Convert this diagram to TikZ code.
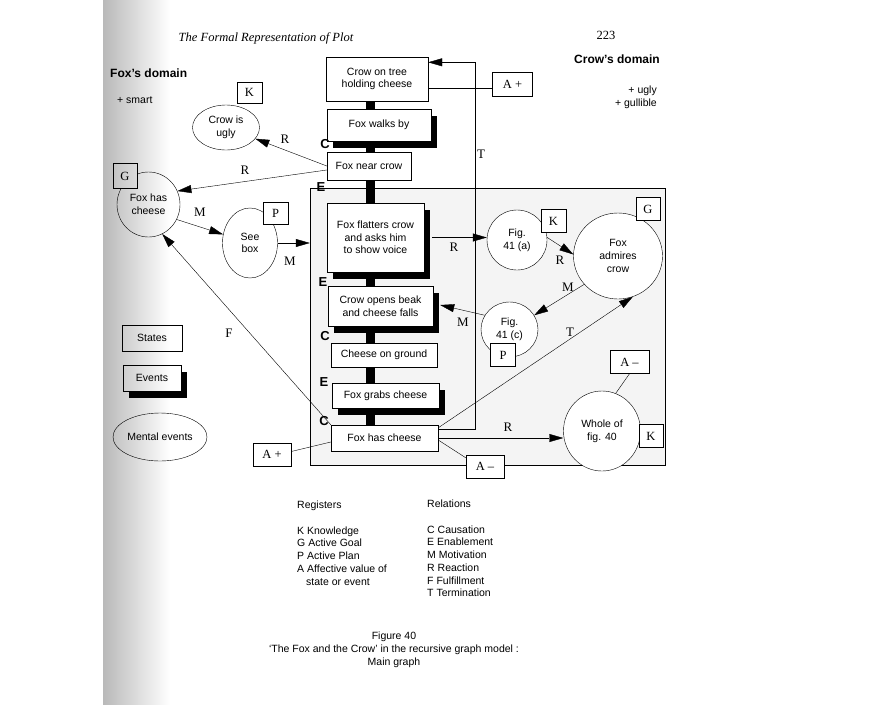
\documentclass[tikz,border=0pt]{standalone}
\usepackage{fontspec}
\setmainfont{Liberation Serif}
\setsansfont{Liberation Sans}
\usetikzlibrary{shapes.geometric, shadows, arrows.meta, positioning}

\begin{document}
\begin{tikzpicture}[x=1pt, y=-1pt,
	txt/.style={font=\sffamily\fontsize{10.5}{12.7}\selectfont, align=center, inner sep=0pt},
	state/.style={txt, draw, fill=white},
	event/.style={state, drop shadow={shadow xshift=6pt, shadow yshift=-7pt, opacity=1, fill=black}},
	mental/.style={txt, draw, ellipse, fill=white},
	reg/.style={draw, fill=white, inner sep=0pt, font=\fontsize{12.5}{12.5}\selectfont},
	rel/.style={font=\fontsize{13}{13}\selectfont, inner sep=0pt},
	link/.style={font=\sffamily\bfseries\fontsize{13}{13}\selectfont, inner sep=0pt},
	arr/.style={-{Triangle[length=14pt, width=8pt]}}]
\useasboundingbox (0,0) rectangle (896,704);
\node[draw, fill=gray!9, minimum width=355pt, minimum height=277pt] (sub) at (487.5,326.5) {};

\node[font=\itshape\fontsize{12.5}{12.5}\selectfont] (head) at (266,38) {The Formal Representation of Plot};
\node[font=\fontsize{12.5}{12.5}\selectfont] (page) at (606,35) {223};
\node[font=\sffamily\bfseries\fontsize{12}{12}\selectfont, anchor=west, inner sep=0pt] (foxdom) at (110,73) {Fox's domain};
\node[txt, anchor=west] (foxtr) at (117,100) {+ smart};
\node[font=\sffamily\bfseries\fontsize{12}{12}\selectfont, anchor=east, inner sep=0pt] (crowdom) at (660,59) {Crow's domain};
\node[txt, align=right, anchor=east] (crowtr) at (657,97.5) {+ ugly\\+ gullible};

\node[state, minimum width=102pt, minimum height=44pt] (tree) at (377,79) {Crow on tree\\holding cheese};
\node[event, minimum width=104pt, minimum height=32pt] (walks) at (379,125) {Fox walks by};
\node[state, minimum width=84pt, minimum height=28pt] (near) at (369,166) {Fox near crow};
\node[event, minimum width=97pt, minimum height=69pt] (flat) at (375.5,237.5) {Fox flatters crow\\and asks him\\to show voice};
\node[event, minimum width=105pt, minimum height=40pt] (beak) at (380.5,306) {Crow opens beak\\and cheese falls};
\node[state, minimum width=106pt, minimum height=24pt] (ground) at (384,355) {Cheese on ground};
\node[event, minimum width=107pt, minimum height=25pt] (grabs) at (385.5,395.5) {Fox grabs cheese};
\node[state, minimum width=107pt, minimum height=26pt] (foxhas) at (384.5,438) {Fox has cheese};

\coordinate (bx) at (370,0);
\foreach \a/\b in {tree/walks, walks/near, near/flat, flat/beak, beak/ground, ground/grabs, grabs/foxhas}
	\draw[line width=9pt] (\a.south -| bx) -- (\b.north -| bx);

\node[link] (c1) at (325,144) {C};
\node[link] (e1) at (321,187) {E};
\node[link] (e2) at (323,282) {E};
\node[link] (c2) at (325,336) {C};
\node[link] (e3) at (324,382) {E};
\node[link] (c3) at (324,421) {C};

\node[mental, minimum width=67pt, minimum height=45pt] (ugly) at (226,127.5) {Crow is\\ugly};
\node[reg, minimum width=25pt, minimum height=21pt] (k1) at (249.5,92.5) {K};
\node[mental, minimum width=63pt, minimum height=65pt] (goal) at (148.5,204.5) {Fox has\\cheese};
\node[reg, minimum width=24pt, minimum height=25pt] (g1) at (125,176) {G};
\node[mental, minimum width=55pt, minimum height=70pt] (see) at (250,243) {See\\box};
\node[reg, minimum width=25pt, minimum height=22pt] (p1) at (275.5,213.5) {P};

\node[state, minimum width=60pt, minimum height=26pt] (lstate) at (152,338) {States};
\node[event, minimum width=58pt, minimum height=26pt] (levent) at (152,378) {Events};
\node[mental, minimum width=94pt, minimum height=48pt] (lmental) at (160,437) {Mental events};

\node[mental, minimum width=60pt, minimum height=60pt] (figa) at (517,240) {Fig.\\41 (a)};
\node[reg, minimum width=25pt, minimum height=23pt] (k2) at (553.5,221) {K};
\node[mental, minimum width=89pt, minimum height=86pt] (admire) at (618,256) {Fox\\admires\\crow};
\node[reg, minimum width=24pt, minimum height=23pt] (g2) at (648,209) {G};
\node[mental, minimum width=57pt, minimum height=55pt] (figc) at (509.5,329.5) {Fig.\\41 (c)};
\node[reg, minimum width=25pt, minimum height=23pt] (p2) at (503,355) {P};
\node[mental, minimum width=77pt, minimum height=80pt] (whole) at (602,431) {Whole of\\fig. 40};
\node[reg, minimum width=24pt, minimum height=23pt] (k3) at (651,436) {K};
\node[reg, minimum width=39pt, minimum height=23pt] (am1) at (629.5,362) {A --};
\node[reg, minimum width=38pt, minimum height=23pt] (am2) at (485,466.5) {A --};
\node[reg, minimum width=40pt, minimum height=24pt] (ap1) at (512.5,84) {A +};
\node[reg, minimum width=38pt, minimum height=23pt] (ap2) at (272,454.5) {A +};

\draw[arr] (near.west) to (ugly);
\draw[arr] ([yshift=-4pt]near.west) to (goal.25);
\draw[arr] (goal.-28) to (see);
\draw[arr] (see.east) to (see.east -| sub.west);
\draw[arr] (foxhas.north west) to (goal.-65);
\draw ([yshift=3pt]ap2.east) to ([yshift=-4pt]foxhas.west);
\draw ([yshift=-9pt]tree.east) to ([yshift=-4pt]ap1.west);
\draw[arr] ([yshift=-4pt]foxhas.north east) -| ([xshift=47pt, yshift=-5.5pt]tree.north east) -- ([yshift=-5.5pt]tree.north east);
\draw[arr] ([xshift=8pt]flat.east) to (flat.east -| figa.west);
\draw[arr] (figa.5) to (admire.178);
\draw[arr] (admire.220) to (figc.30);
\draw[arr] (figc.150) to ([xshift=7pt, yshift=1pt]beak.east);
\draw[arr] ([yshift=-3pt]foxhas.north east) to (admire.-70);
\draw[arr] (foxhas.east) to (foxhas.east -| whole.west);
\draw (am1.south) to (whole.70);
\draw ([yshift=-2pt]foxhas.east) to ([yshift=-3pt]am2.north west);

\node[rel] (r1) at (285,139) {R};
\node[rel] (r2) at (245,170) {R};
\node[rel] (m1) at (200,212) {M};
\node[rel] (m2) at (290,261) {M};
\node[rel] (f1) at (229,333) {F};
\node[rel] (t1) at (481,154) {T};
\node[rel] (r3) at (454,247) {R};
\node[rel] (r4) at (560,260) {R};
\node[rel] (m3) at (568,287) {M};
\node[rel] (m4) at (463,322) {M};
\node[rel] (t2) at (570,332) {T};
\node[rel] (r5) at (508,427) {R};

\node[txt, align=left, anchor=north west] (regs) at (297,501) {Registers\\[12.7pt]K Knowledge\\G Active Goal\\P Active Plan\\A Affective value of\\\hspace{9pt}state or event};
\node[txt, align=left, anchor=north west] (rels) at (427,500) {Relations\\[12.7pt]C Causation\\E Enablement\\M Motivation\\R Reaction\\F Fulfillment\\T Termination};
\node[txt, anchor=north] (cap) at (394,632) {Figure 40\\‘The Fox and the Crow’ in the recursive graph model :\\Main graph};

\begin{scope}[blend mode=multiply]
\shade[left color=gray!55, right color=white] (103,0) rectangle (170,704);
\end{scope}
\end{tikzpicture}
\end{document}
